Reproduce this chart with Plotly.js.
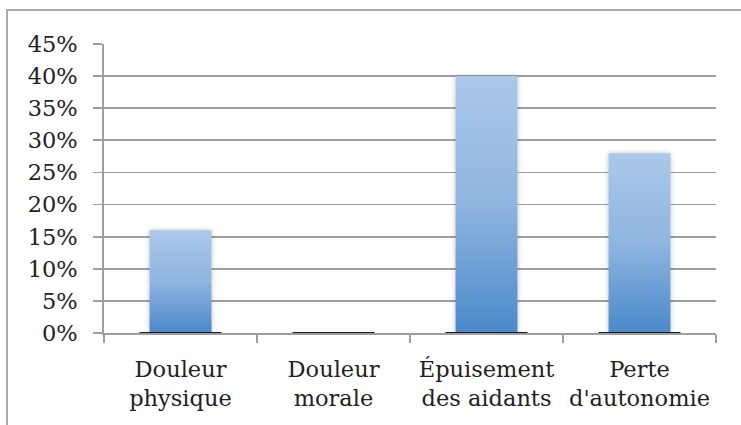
<!DOCTYPE html>
<html>
<head>
<meta charset="utf-8">
<script src="https://cdn.plot.ly/plotly-3.0.1.min.js"></script>
<style>
  html, body { margin: 0; padding: 0; background: #fff; }
  #wrap { position: relative; width: 741px; height: 425px; overflow: hidden; }
  #chart { width: 741px; height: 425px; }
  #frame { position: absolute; left: 6px; top: 9px; width: 800px; height: 500px;
           border-left: 2px solid #ababab; border-top: 2px solid #ababab; pointer-events: none; }
</style>
</head>
<body>
<div id="wrap">
  <div id="chart"></div>
  <div id="frame"></div>
</div>
<script>
const categories = ["Douleur<br>physique", "Douleur<br>morale", "Épuisement<br>des aidants", "Perte<br>d'autonomie"];
const values = [0.16, 0.0, 0.40, 0.28];
const tickValues = [0, 0.05, 0.10, 0.15, 0.20, 0.25, 0.30, 0.35, 0.40, 0.45];
const tickLabels = ["0%", "5%", "10%", "15%", "20%", "25%", "30%", "35%", "40%", "45%"];

const font = { family: "DejaVu Serif, serif", size: 22.5, color: "#222" };

const trace = {
  type: "bar",
  x: categories,
  y: values,
  width: 0.405,
  marker: { color: "#78a7da", line: { width: 0 } },
  hoverinfo: "skip"
};

// dark base line under each category bar (through the axis scale)
const shapes = categories.map((c, i) => ({
  type: "line", xref: "x", yref: "y",
  x0: i - 0.268, x1: i + 0.268, y0: 0, y1: 0,
  line: { color: "#1a1a1a", width: 2.2 },
  layer: "above"
}));

const axisGray = "#9e9e9e";

const layout = {
  width: 741, height: 425,
  margin: { l: 104, r: 25, t: 44, b: 92 },
  paper_bgcolor: "#fff", plot_bgcolor: "#fff",
  showlegend: false,
  font: font,
  bargap: 0.595,
  shapes: shapes,
  xaxis: {
    type: "category",
    range: [-0.5, 3.5],
    tickson: "boundaries",
    ticks: "outside", ticklen: 8, tickwidth: 1.8, tickcolor: axisGray,
    showline: true, linecolor: axisGray, linewidth: 1.8,
    showgrid: false, zeroline: false,
    tickfont: font,
    ticklabelstandoff: 15,
    fixedrange: true
  },
  yaxis: {
    range: [0, 0.45],
    tickvals: tickValues, ticktext: tickLabels,
    ticks: "outside", ticklen: 9, tickwidth: 1.8, tickcolor: axisGray,
    showline: true, linecolor: axisGray, linewidth: 1.8,
    showgrid: true, gridcolor: axisGray, gridwidth: 1.8,
    zeroline: false,
    tickfont: font,
    ticklabelstandoff: 11,
    fixedrange: true
  }
};

Plotly.newPlot("chart", [trace], layout, { staticPlot: true, displayModeBar: false }).then(() => {
  const svg = document.querySelector("#chart svg.main-svg");
  const ns = "http://www.w3.org/2000/svg";
  let defs = svg.querySelector("defs");
  if (!defs) { defs = document.createElementNS(ns, "defs"); svg.insertBefore(defs, svg.firstChild); }
  const grad = document.createElementNS(ns, "linearGradient");
  grad.setAttribute("id", "barGrad");
  grad.setAttribute("x1", "0"); grad.setAttribute("y1", "0");
  grad.setAttribute("x2", "0"); grad.setAttribute("y2", "1");
  [["0", "#abc8ea"], ["0.5", "#8fb5e0"], ["1", "#4a89ca"]].forEach(([o, c]) => {
    const s = document.createElementNS(ns, "stop");
    s.setAttribute("offset", o); s.setAttribute("stop-color", c);
    grad.appendChild(s);
  });
  defs.appendChild(grad);
  const filt = document.createElementNS(ns, "filter");
  filt.setAttribute("id", "barShadow");
  filt.setAttribute("x", "-30%"); filt.setAttribute("y", "-10%");
  filt.setAttribute("width", "160%"); filt.setAttribute("height", "120%");
  const ds = document.createElementNS(ns, "feDropShadow");
  ds.setAttribute("dx", "0"); ds.setAttribute("dy", "0");
  ds.setAttribute("stdDeviation", "2.5");
  ds.setAttribute("flood-color", "#000"); ds.setAttribute("flood-opacity", "0.25");
  filt.appendChild(ds);
  defs.appendChild(filt);
  document.querySelectorAll("#chart .bars .point path").forEach(p => {
    p.style.fill = "url(#barGrad)";
    p.setAttribute("filter", "url(#barShadow)");
  });
});
</script>
</body>
</html>
